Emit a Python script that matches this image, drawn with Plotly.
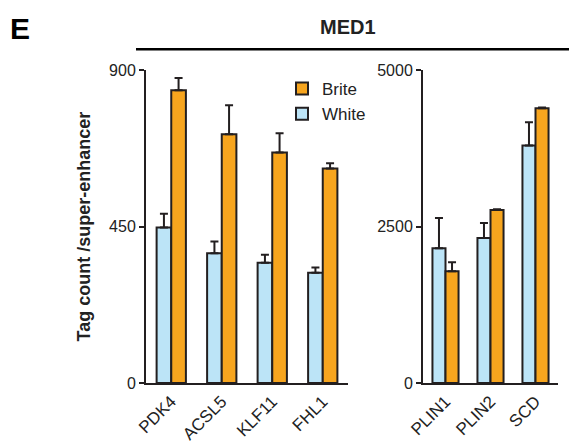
import plotly.graph_objects as go

W, H = 569, 447

# ---- data ----
genes_left = ["PDK4", "ACSL5", "KLF11", "FHL1"]
white_left = [447, 373, 346, 317]
white_left_err = [40, 34, 23, 15]
brite_left = [842, 715, 663, 617]
brite_left_err = [35, 84, 55, 15]

genes_right = ["PLIN1", "PLIN2", "SCD"]
white_right = [2154, 2315, 3794]
white_right_err = [483, 241, 370]
brite_right = [1785, 2765, 4389]
brite_right_err = [144, 10, 10]

left_ticks = [0, 450, 900]
right_ticks = [0, 2500, 5000]

ORANGE = "#F7A51E"
BLUE = "#BCE4F7"
EDGE = "#231F20"
FONT = "Liberation Sans, Arial, sans-serif"


def px(x):
    return x / W


def py(y):
    return 1 - y / H


fig = go.Figure()

def add_bars(cats, white, white_err, brite, brite_err, xa, ya, show):
    fig.add_trace(go.Bar(
        x=cats, y=white, name="White", xaxis=xa, yaxis=ya,
        marker=dict(color=BLUE, line=dict(color=EDGE, width=2)),
        error_y=dict(type="data", array=white_err, arrayminus=[0] * len(white),
                     symmetric=False, color=EDGE, thickness=2, width=4),
        showlegend=show, legendrank=2,
    ))
    fig.add_trace(go.Bar(
        x=cats, y=brite, name="Brite", xaxis=xa, yaxis=ya,
        marker=dict(color=ORANGE, line=dict(color=EDGE, width=2)),
        error_y=dict(type="data", array=brite_err, arrayminus=[0] * len(brite),
                     symmetric=False, color=EDGE, thickness=2, width=4),
        showlegend=show, legendrank=1,
    ))

add_bars(genes_left, white_left, white_left_err, brite_left, brite_left_err, "x", "y", True)
add_bars(genes_right, white_right, white_right_err, brite_right, brite_right_err, "x2", "y2", False)

y_bottom, y_top = 383, 70

axis_common = dict(showgrid=False, zeroline=False, showline=True, linecolor=EDGE,
                   linewidth=2, tickfont=dict(family=FONT, size=16, color="#222"))
xtickfont = dict(family=FONT, size=17, color="#222")

fig.update_layout(
    width=W, height=H,
    margin=dict(l=0, r=0, t=0, b=0, autoexpand=False),
    paper_bgcolor="white", plot_bgcolor="white",
    barmode="group", bargap=0.42, bargroupgap=0,
    font=dict(family=FONT, color="#222"),
    xaxis=dict(domain=[px(146), px(348)], anchor="y", range=[-0.5, 3.5],
               tickangle=-45, ticks="", automargin=False,
               **{**axis_common, "tickfont": xtickfont}),
    yaxis=dict(domain=[py(y_bottom), py(y_top)], anchor="x", range=[0, 900],
               tickvals=left_ticks, ticks="outside", ticklen=5, tickwidth=2,
               tickcolor=EDGE, automargin=False, **axis_common),
    xaxis2=dict(domain=[px(423), px(558)], anchor="y2", range=[-0.5, 2.5],
                tickangle=-45, ticks="", automargin=False,
                **{**axis_common, "tickfont": xtickfont}),
    yaxis2=dict(domain=[py(y_bottom), py(y_top)], anchor="x2", range=[0, 5000],
                tickvals=right_ticks, ticks="outside", ticklen=5, tickwidth=2,
                tickcolor=EDGE, automargin=False, **axis_common),
    legend=dict(x=px(282), y=py(71), xanchor="left", yanchor="top",
                bgcolor="rgba(0,0,0,0)", font=dict(family=FONT, size=17, color="#222"),
                traceorder="normal", itemwidth=30, tracegroupgap=0),
)

fig.add_shape(type="line", xref="paper", yref="paper",
              x0=px(136), x1=px(569), y0=py(49.3), y1=py(49.3),
              line=dict(color="black", width=2.5))

fig.add_annotation(x=px(347.5), y=py(26.5), xref="paper", yref="paper", text="<b>MED1</b>",
                   xanchor="center", yanchor="middle",
                   showarrow=False, font=dict(family=FONT, size=20, color="#222"))
fig.add_annotation(x=px(20), y=py(29), xref="paper", yref="paper", text="<b>E</b>",
                   xanchor="center", yanchor="middle",
                   showarrow=False, font=dict(family=FONT, size=30, color="black"))
fig.add_annotation(x=px(83), y=py(226.5), xref="paper", yref="paper",
                   text="<b>Tag count /super-enhancer</b>", textangle=-90,
                   xanchor="center", yanchor="middle",
                   showarrow=False, font=dict(family=FONT, size=18, color="#222"))

fig.write_html("out.html", config={"displayModeBar": False},
               post_script="document.body.style.margin='0';document.body.style.overflow='hidden';")
